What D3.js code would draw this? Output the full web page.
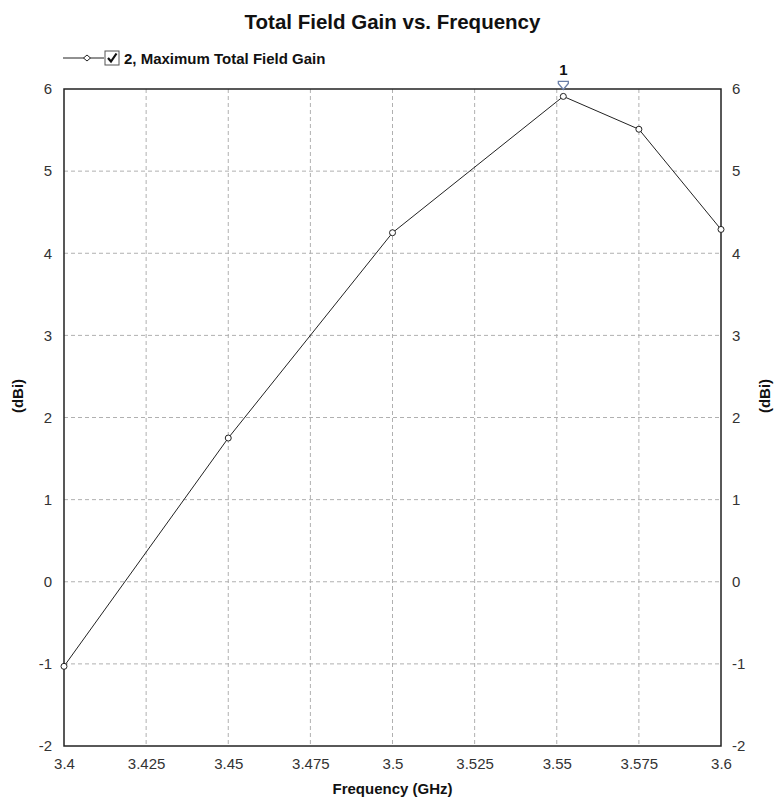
<!DOCTYPE html>
<html><head><meta charset="utf-8">
<script src="https://cdn.jsdelivr.net/npm/d3@7"></script>
<style>body{margin:0;background:#fff;} text{font-family:Arial,"Liberation Sans",sans-serif;}</style>
</head><body><svg id="c" width="774" height="798"></svg>
<script>
const freq = [3.4, 3.45, 3.5, 3.552, 3.575, 3.6];
const gain = [-1.03, 1.75, 4.25, 5.91, 5.51, 4.29];
const xTicks = [3.4, 3.425, 3.45, 3.475, 3.5, 3.525, 3.55, 3.575, 3.6];
const xTickLabels = ["3.4","3.425","3.45","3.475","3.5","3.525","3.55","3.575","3.6"];
const yTicks = [-2,-1,0,1,2,3,4,5,6];
const markerFreq = [3.552];
const markerLabel = ["1"];
const title = "Total Field Gain vs. Frequency";
const legendLabel = "2, Maximum Total Field Gain";

const svg = d3.select("#c");
const L=64, R=721, T=89, B=746;
const x = d3.scaleLinear().domain([3.4,3.6]).range([L,R]);
const y = d3.scaleLinear().domain([-2,6]).range([B,T]);

// grid
const g = svg.append("g");
g.selectAll(".vg").data(xTicks.slice(1,-1)).join("line")
 .attr("x1",d=>x(d)).attr("x2",d=>x(d)).attr("y1",T).attr("y2",B)
 .attr("stroke","#b0b0b0").attr("stroke-dasharray","4,3");
g.selectAll(".hg").data(yTicks.slice(1,-1)).join("line")
 .attr("y1",d=>y(d)).attr("y2",d=>y(d)).attr("x1",L).attr("x2",R)
 .attr("stroke","#b0b0b0").attr("stroke-dasharray","4,3");

// axes via d3
const fs = "15px";
const ax = svg.append("g").attr("transform",`translate(0,${B})`)
 .call(d3.axisBottom(x).tickValues(xTicks).tickFormat((d,i)=>xTickLabels[i]).tickSize(0).tickPadding(12));
const ayl = svg.append("g").attr("transform",`translate(${L},0)`)
 .call(d3.axisLeft(y).tickValues(yTicks).tickFormat(d=>String(d)).tickSize(0).tickPadding(12));
const ayr = svg.append("g").attr("transform",`translate(${R},0)`)
 .call(d3.axisRight(y).tickValues(yTicks).tickFormat(d=>String(d)).tickSize(0).tickPadding(11));
[ax,ayl,ayr].forEach(a=>{a.select(".domain").remove();
 a.selectAll("text").attr("font-size",fs).attr("fill","#333").attr("font-family","Arial, 'Liberation Sans', sans-serif");});

// frame
svg.append("rect").attr("x",L).attr("y",T).attr("width",R-L).attr("height",B-T)
 .attr("fill","none").attr("stroke","#222").attr("stroke-width",1.5);

// line
const line = d3.line().x((d,i)=>x(freq[i])).y(d=>y(d));
svg.append("path").datum(gain).attr("d",line).attr("fill","none").attr("stroke","#222").attr("stroke-width",1);
svg.selectAll(".pt").data(gain).join("circle")
 .attr("cx",(d,i)=>x(freq[i])).attr("cy",d=>y(d)).attr("r",3)
 .attr("fill","#fff").attr("stroke","#222").attr("stroke-width",1);

// marker
markerFreq.forEach((mf,k)=>{
 const i = freq.indexOf(mf);
 const mx = x(mf), my = y(gain[i]);
 const mg = svg.append("g");
 mg.append("path").attr("d",`M${mx-5},${my-15} L${mx+5},${my-15} L${mx+5},${my-13} L${mx},${my-7} L${mx-5},${my-13} Z`)
  .attr("fill","#fff").attr("stroke","#6a7fa8").attr("stroke-width",1.3);
 mg.append("text").attr("x",mx).attr("y",75).attr("text-anchor","middle")
  .attr("font-size","15px").attr("font-weight","bold").attr("fill","#111").text(markerLabel[k]);
});

// title
svg.append("text").attr("x",(L+R)/2).attr("y",29).attr("text-anchor","middle")
 .attr("font-size","20.5px").attr("font-weight","bold").attr("fill","#111").text(title);

// legend
const ly = 58;
svg.append("line").attr("x1",63).attr("x2",104).attr("y1",ly).attr("y2",ly).attr("stroke","#222");
svg.append("path").attr("d",`M${87-3.5},${ly} L87,${ly-3} L${87+3.5},${ly} L87,${ly+3} Z`).attr("fill","#fff").attr("stroke","#222");
svg.append("rect").attr("x",105).attr("y",ly-7).attr("width",14).attr("height",14).attr("fill","#fff").attr("stroke","#555");
svg.append("path").attr("d",`M${108},${ly} L${111},${ly+3.5} L${116.5},${ly-4.5}`).attr("fill","none").attr("stroke","#111").attr("stroke-width",2.2);
svg.append("text").attr("x",124).attr("y",ly+5.5).attr("font-size","15px").attr("font-weight","bold").attr("fill","#111").text(legendLabel);

// axis titles
svg.append("text").attr("x",(L+R)/2).attr("y",794).attr("text-anchor","middle")
 .attr("font-size","15px").attr("font-weight","bold").attr("fill","#111").text("Frequency (GHz)");
svg.append("text").attr("transform",`translate(23,396) rotate(-90)`).attr("text-anchor","middle")
 .attr("font-size","15px").attr("font-weight","bold").attr("fill","#111").text("(dBi)");
svg.append("text").attr("transform",`translate(770,396) rotate(-90)`).attr("text-anchor","middle")
 .attr("font-size","15px").attr("font-weight","bold").attr("fill","#111").text("(dBi)");
</script></body></html>
